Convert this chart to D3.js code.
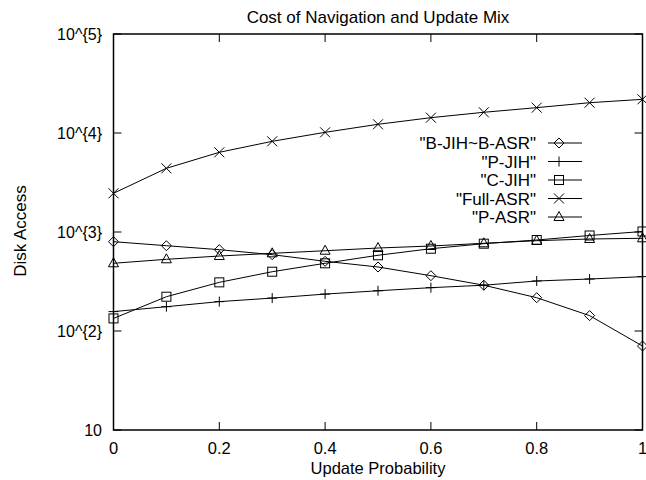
<!DOCTYPE html>
<html><head><meta charset="utf-8">
<script src="https://cdn.jsdelivr.net/npm/d3@7"></script>
<style>body{margin:0;background:#fff}svg text{font-family:"Liberation Sans",Arial,sans-serif;fill:#000}</style>
</head><body><svg id="c" width="646" height="480"></svg>
<script>
const xValues = [0,0.1,0.2,0.3,0.4,0.5,0.6,0.7,0.8,0.9,1.0];
const seriesNames = ['"B-JIH~B-ASR"','"P-JIH"','"C-JIH"','"Full-ASR"','"P-ASR"'];
const bjih = [798,727,663,590,506,443,362,290,217,143,70.5];
const pjih = [157,176,198,215,236,255,274,290,320,335,354];
const cjih = [134,222,310,397,483,582,678,762,830,922,1012];
const fullasr = [2460,4400,6380,8240,10160,12240,14280,16190,18030,20230,21890];
const pasr = [483,530,572,609,647,689,722,769,817,850,864];
const markers = ["diamond","plus","square","cross","triangle"];
const xTicks = [0,0.2,0.4,0.6,0.8,1];
const xTickLabels = ["0","0.2","0.4","0.6","0.8","1"];
const yTicks = [10,100,1000,10000,100000];
const yTickLabels = ["10","10^{2}","10^{3}","10^{4}","10^{5}"];
const title = "Cost of Navigation and Update Mix";
const xTitle = "Update Probability";
const yTitle = "Disk Access";

const svg = d3.select("#c");
const L=113.5,R=642.5,T=34,B=430;
const x = d3.scaleLinear().domain([0,1]).range([L,R]);
const y = d3.scaleLog().domain([10,1e5]).range([B,T]);
const fs = 17;

function marker(g,type,cx,cy){
  const s=5;
  if(type==="diamond") g.append("path").attr("d",`M${cx},${cy-s}L${cx+s},${cy}L${cx},${cy+s}L${cx-s},${cy}Z`).attr("fill","none").attr("stroke","#000");
  else if(type==="plus") g.append("path").attr("d",`M${cx-s},${cy}H${cx+s}M${cx},${cy-s}V${cy+s}`).attr("stroke","#000");
  else if(type==="square") g.append("rect").attr("x",cx-4.5).attr("y",cy-4.5).attr("width",9).attr("height",9).attr("fill","none").attr("stroke","#000");
  else if(type==="cross") g.append("path").attr("d",`M${cx-s},${cy-s}L${cx+s},${cy+s}M${cx-s},${cy+s}L${cx+s},${cy-s}`).attr("stroke","#000");
  else if(type==="triangle") g.append("path").attr("d",`M${cx},${cy-5.5}L${cx+5},${cy+3.5}L${cx-5},${cy+3.5}Z`).attr("fill","none").attr("stroke","#000");
}

// ticks (inward, mirrored)
const tk = svg.append("g").attr("stroke","#000").attr("stroke-width",1);
xTicks.forEach(t=>{
  tk.append("line").attr("x1",x(t)).attr("x2",x(t)).attr("y1",B).attr("y2",B-8);
  tk.append("line").attr("x1",x(t)).attr("x2",x(t)).attr("y1",T).attr("y2",T+8);
});
yTicks.forEach(t=>{
  tk.append("line").attr("x1",L).attr("x2",L+8).attr("y1",y(t)).attr("y2",y(t));
  tk.append("line").attr("x1",R).attr("x2",R-8).attr("y1",y(t)).attr("y2",y(t));
});
xTicks.forEach((t,i)=>svg.append("text").attr("x",x(t)).attr("y",454).attr("text-anchor","middle").attr("font-size",16.5).text(xTickLabels[i]));
yTicks.forEach((t,i)=>svg.append("text").attr("x",102).attr("y",y(t)+6).attr("text-anchor","end").attr("font-size",16).text(yTickLabels[i]));

svg.append("text").attr("x",(L+R)/2).attr("y",23).attr("text-anchor","middle").attr("font-size",fs).text(title);
svg.append("text").attr("x",(L+R)/2).attr("y",474).attr("text-anchor","middle").attr("font-size",16.5).text(xTitle);
svg.append("text").attr("transform","translate(26,231) rotate(-90)").attr("text-anchor","middle").attr("font-size",fs).text(yTitle);

// data
const all=[bjih,pjih,cjih,fullasr,pasr];
const line=d3.line().x((d,i)=>x(xValues[i])).y(d=>y(d));
all.forEach((vals,k)=>{
  const g=svg.append("g");
  g.append("path").attr("d",line(vals)).attr("fill","none").attr("stroke","#000").attr("stroke-width",1);
  vals.forEach((v,i)=>marker(g,markers[k],x(xValues[i]),y(v)));
});

// legend
seriesNames.forEach((n,k)=>{
  const ly=143+k*18.5;
  svg.append("text").attr("x",536).attr("y",ly+6).attr("text-anchor","end").attr("font-size",fs).text(n);
  svg.append("line").attr("x1",548).attr("x2",582).attr("y1",ly).attr("y2",ly).attr("stroke","#000");
  marker(svg,markers[k],559,ly);
});

// border
svg.append("rect").attr("x",L).attr("y",T).attr("width",R-L).attr("height",B-T).attr("fill","none").attr("stroke","#000").attr("stroke-width",1.5);
</script></body></html>
